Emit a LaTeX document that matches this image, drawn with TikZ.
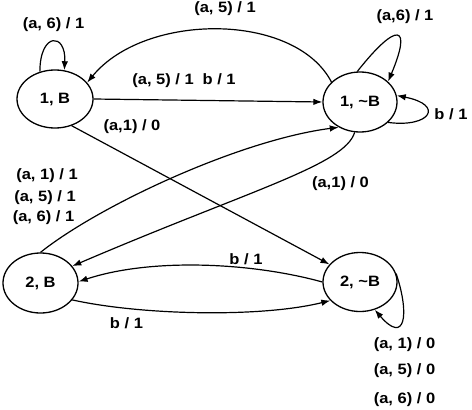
\documentclass[tikz,border=0pt]{standalone}
\usepackage{fontspec}
\setmainfont{Liberation Sans}
\usetikzlibrary{shapes.geometric,arrows.meta}
\newcommand{\lb}[1]{\scalebox{1.1}[1]{\bfseries #1}}
\begin{document}
\begin{tikzpicture}[x=1pt,y=-1pt,
  state/.style={draw,ellipse,line width=1.3pt,inner sep=0pt,font=\fontsize{15}{17}\selectfont},
  edge/.style={line width=1.2pt,-{Latex[length=9pt,width=6.5pt]}},
  lab/.style={font=\fontsize{15}{17}\selectfont,inner sep=0pt}]
\useasboundingbox[fill=white] (0,0) rectangle (472,410);
\node[state,minimum width=76pt,minimum height=58pt] (A) at (55,99) {\lb{1, B}};
\node[state,minimum width=74pt,minimum height=60pt] (C) at (360,102) {\lb{1, \textasciitilde B}};
\node[state,minimum width=75pt,minimum height=60pt] (D) at (40.5,283) {\lb{2, B}};
\node[state,minimum width=74pt,minimum height=59pt] (E) at (360,282) {\lb{2, \textasciitilde B}};
% self loop on A
\draw[edge] (A.119) .. controls +(0,-40) and +(2,-38) .. (A.72);
% C -> A top
\draw[edge] (C.145) .. controls (295,12) and (145,12) .. (A.27);
% A -> C
\draw[edge] (A.0) -- (C.180);
% A -> E
\draw[edge] (A.302) -- (E.150);
% D -> C
\draw[edge] (D.90) .. controls (100,205) and (240,140) .. (C.230);
% C -> D
\draw[edge] (C.260) .. controls (345,165) and (250,190) .. (D.28);
% E -> D upper
\draw[edge] (E.180) .. controls (250,262) and (150,258) .. (D.2);
% D -> E lower
\draw[edge] (D.332) .. controls (140,315) and (260,318) .. (E.212);
% C self loops
\draw[edge] (C.95) .. controls (398,20) and (412,25) .. (C.36);
\draw[edge] (C.324) .. controls (430,128) and (445,105) .. (C.10);
% E self loop
\draw[edge] (E.13) .. controls (410,315) and (405,345) .. (E.298);
% labels
\node[lab] (l1) at (53.5,25) {\lb{(a, 6) / 1}};
\node[lab] (l2) at (225,9) {\lb{(a, 5) / 1}};
\node[lab] (l3) at (184,81) {\lb{(a, 5) / 1\hspace{8pt}b / 1}};
\node[lab] (l4) at (132,127) {\lb{(a,1) / 0}};
\node[lab] (l5) at (405,17) {\lb{(a,6) / 1}};
\node[lab] (l6) at (451,114) {\lb{b / 1}};
\node[lab] (l7) at (47,176) {\lb{(a, 1) / 1}};
\node[lab] (l8) at (45,198) {\lb{(a, 5) / 1}};
\node[lab] (l9) at (43.5,218) {\lb{(a, 6) / 1}};
\node[lab] (l10) at (340.5,184) {\lb{(a,1) / 0}};
\node[lab] (l11) at (246,259) {\lb{b / 1}};
\node[lab] (l12) at (126.5,323) {\lb{b / 1}};
\node[lab] (l13) at (404.5,344.5) {\lb{(a, 1) / 0}};
\node[lab] (l14) at (404.5,371) {\lb{(a, 5) / 0}};
\node[lab] (l15) at (404.5,399.5) {\lb{(a, 6) / 0}};
\end{tikzpicture}
\end{document}
